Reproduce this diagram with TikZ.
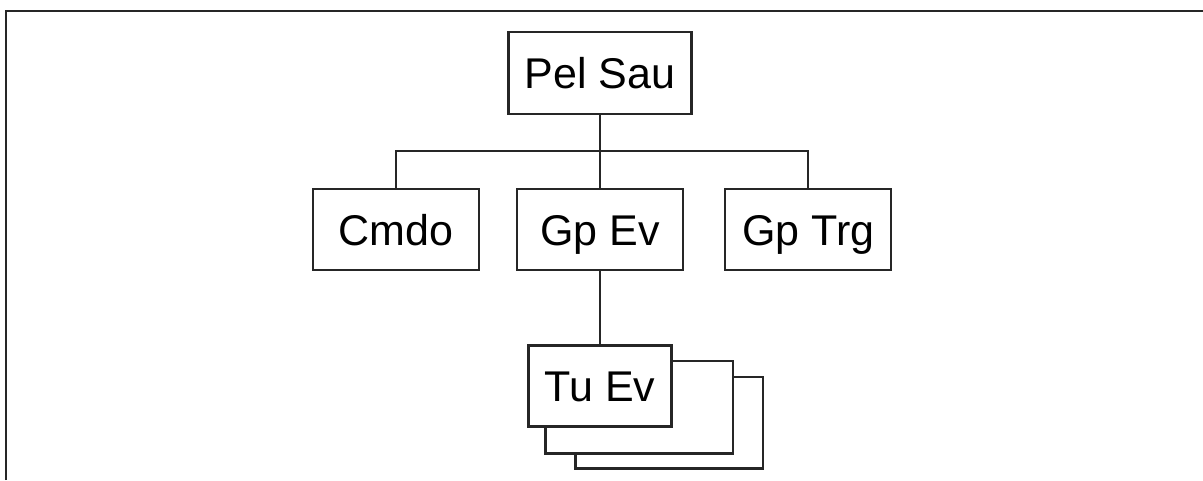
\documentclass[tikz,border=0pt]{standalone}
\usepackage{fontspec}
\setmainfont{Liberation Sans}
\usetikzlibrary{positioning,backgrounds}

\begin{document}
\begin{tikzpicture}[
  x=1pt, y=-1pt,
  node distance=73pt,
  unit/.style={rectangle, draw=black!85, line width=2.2pt, fill=white,
               minimum width=166pt, minimum height=81pt, inner sep=0pt,
               text height=31pt, text depth=0pt,
               font=\fontsize{43}{50}\selectfont},
  link/.style={draw=black!85, line width=2.2pt},
  frame/.style={draw=black!85, line width=2.8pt}
]
  \useasboundingbox (0,0) rectangle (1203,480);
  \draw[frame] (6,480) -- (6,11) -- (1203,11);

  \node[unit, minimum width=183pt, minimum height=82pt] (pelsau) at (600,73) {Pel Sau};
  \node[unit, below=of pelsau]           (gpev)  {Gp Ev};
  \node[unit, left=36pt of gpev]         (cmdo)  {Cmdo};
  \node[unit, right=40pt of gpev]        (gptrg) {Gp Trg};
  \node[unit, below=of gpev, minimum width=143pt] (tuev) {Tu Ev};

  % stacked sub-units behind Tu Ev
  \begin{scope}[on background layer]
    \draw[link, fill=white] ([xshift=48pt,yshift=-33pt]tuev.north west) rectangle ([xshift=90pt,yshift=-41pt]tuev.south east);
    \draw[link, fill=white] ([xshift=18pt,yshift=-17pt]tuev.north west) rectangle ([xshift=60pt,yshift=-26pt]tuev.south east);
  \end{scope}

  \coordinate (bus) at (600,151);
  \draw[link] (pelsau) -- (gpev);
  \draw[link] (cmdo.north) |- (bus) -| (gptrg.north);
  \draw[link] (gpev) -- (tuev);
\end{tikzpicture}
\end{document}
